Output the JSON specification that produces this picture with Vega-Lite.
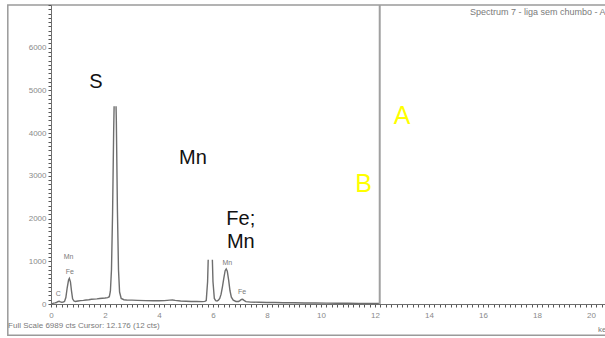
{
  "$schema": "https://vega.github.io/schema/vega-lite/v6.json",
  "autosize": "none",
  "width": 554,
  "height": 299,
  "padding": {"left": 51, "top": 5, "right": 0, "bottom": 34},
  "background": "#ffffff",
  "config": {"view": {"stroke": null}, "font": "Liberation Sans"},
  "datasets": {
    "frame": [{"x1": -1.6, "x2": 22, "y1": -730, "y2": 7000}],
    "spectrum": [
      {"kev": 0, "cts": 0}, {"kev": 0.05, "cts": 10}, {"kev": 0.1, "cts": 20}, {"kev": 0.15, "cts": 25},
      {"kev": 0.2, "cts": 35}, {"kev": 0.25, "cts": 55}, {"kev": 0.3, "cts": 65}, {"kev": 0.35, "cts": 50},
      {"kev": 0.4, "cts": 40}, {"kev": 0.45, "cts": 45}, {"kev": 0.5, "cts": 60}, {"kev": 0.55, "cts": 150},
      {"kev": 0.6, "cts": 380}, {"kev": 0.65, "cts": 560}, {"kev": 0.68, "cts": 600}, {"kev": 0.72, "cts": 520},
      {"kev": 0.76, "cts": 300}, {"kev": 0.8, "cts": 120}, {"kev": 0.85, "cts": 70}, {"kev": 0.9, "cts": 60},
      {"kev": 1.0, "cts": 70}, {"kev": 1.1, "cts": 80}, {"kev": 1.2, "cts": 85}, {"kev": 1.3, "cts": 95},
      {"kev": 1.4, "cts": 100}, {"kev": 1.5, "cts": 110}, {"kev": 1.6, "cts": 115}, {"kev": 1.7, "cts": 120},
      {"kev": 1.8, "cts": 130}, {"kev": 1.9, "cts": 135}, {"kev": 2.0, "cts": 140}, {"kev": 2.1, "cts": 150},
      {"kev": 2.16, "cts": 170}, {"kev": 2.2, "cts": 300}, {"kev": 2.24, "cts": 800}, {"kev": 2.28, "cts": 2100},
      {"kev": 2.32, "cts": 4000}, {"kev": 2.36, "cts": 5400}, {"kev": 2.38, "cts": 5500}, {"kev": 2.42, "cts": 4300},
      {"kev": 2.46, "cts": 2200}, {"kev": 2.5, "cts": 800}, {"kev": 2.54, "cts": 280}, {"kev": 2.6, "cts": 130},
      {"kev": 2.7, "cts": 100}, {"kev": 2.8, "cts": 95}, {"kev": 3.0, "cts": 90}, {"kev": 3.2, "cts": 85},
      {"kev": 3.5, "cts": 80}, {"kev": 3.8, "cts": 75}, {"kev": 4.0, "cts": 75}, {"kev": 4.2, "cts": 80},
      {"kev": 4.4, "cts": 90}, {"kev": 4.5, "cts": 95}, {"kev": 4.6, "cts": 85}, {"kev": 4.8, "cts": 70},
      {"kev": 5.0, "cts": 65}, {"kev": 5.2, "cts": 60}, {"kev": 5.4, "cts": 60}, {"kev": 5.6, "cts": 55},
      {"kev": 5.7, "cts": 60}, {"kev": 5.75, "cts": 80}, {"kev": 5.8, "cts": 520}, {"kev": 5.85, "cts": 1650},
      {"kev": 5.9, "cts": 2400}, {"kev": 5.95, "cts": 1650}, {"kev": 6.0, "cts": 520}, {"kev": 6.05, "cts": 130},
      {"kev": 6.1, "cts": 80}, {"kev": 6.15, "cts": 70}, {"kev": 6.2, "cts": 90}, {"kev": 6.25, "cts": 130},
      {"kev": 6.3, "cts": 230}, {"kev": 6.35, "cts": 400}, {"kev": 6.4, "cts": 600}, {"kev": 6.45, "cts": 780},
      {"kev": 6.49, "cts": 820}, {"kev": 6.53, "cts": 770}, {"kev": 6.58, "cts": 560}, {"kev": 6.63, "cts": 310},
      {"kev": 6.68, "cts": 160}, {"kev": 6.75, "cts": 90}, {"kev": 6.85, "cts": 60}, {"kev": 6.95, "cts": 60},
      {"kev": 7.0, "cts": 80}, {"kev": 7.05, "cts": 105}, {"kev": 7.1, "cts": 110}, {"kev": 7.15, "cts": 85},
      {"kev": 7.22, "cts": 55}, {"kev": 7.4, "cts": 45}, {"kev": 7.7, "cts": 40}, {"kev": 8.0, "cts": 35},
      {"kev": 8.3, "cts": 35}, {"kev": 8.6, "cts": 30}, {"kev": 9.0, "cts": 28}, {"kev": 9.4, "cts": 25},
      {"kev": 9.8, "cts": 22}, {"kev": 10.2, "cts": 20}, {"kev": 10.6, "cts": 18}, {"kev": 11.0, "cts": 16},
      {"kev": 11.4, "cts": 14}, {"kev": 11.8, "cts": 13}, {"kev": 12.176, "cts": 12}
    ],
    "boxes": [
      {"x1": 0.6, "x2": 2.6, "y1": 4630, "y2": 5690},
      {"x1": 3.94, "x2": 6.6, "y1": 2610, "y2": 3970},
      {"x1": 5.68, "x2": 8.83, "y1": 1034, "y2": 2515}
    ],
    "cursor": [{"kev": 12.176}],
    "small": [
      {"kev": 0.65, "cts": 1100, "t": "Mn"},
      {"kev": 0.7, "cts": 750, "t": "Fe"},
      {"kev": 0.27, "cts": 235, "t": "C"},
      {"kev": 6.53, "cts": 960, "t": "Mn"},
      {"kev": 7.08, "cts": 280, "t": "Fe"}
    ],
    "big": [
      {"kev": 1.66, "cts": 5205, "t": "S"},
      {"kev": 5.26, "cts": 3408, "t": "Mn"},
      {"kev": 7.03, "cts": 2000, "t": "Fe;"},
      {"kev": 7.03, "cts": 1457, "t": "Mn"}
    ],
    "yellow": [
      {"kev": 13.0, "cts": 4395, "t": "A"},
      {"kev": 11.58, "cts": 2800, "t": "B"}
    ],
    "notes": [
      {"kev": 15.52, "cts": 6836, "t": "Spectrum 7 - liga sem chumbo - A", "s": 9},
      {"kev": -1.59, "cts": -515, "t": "Full Scale 6989 cts Cursor: 12.176  (12 cts)", "s": 8},
      {"kev": 20.26, "cts": -609, "t": "keV", "s": 8}
    ]
  },
  "layer": [
    {
      "data": {"name": "frame"},
      "mark": {"type": "rect", "fill": "transparent", "stroke": "#9a9a9a", "strokeWidth": 1.5, "clip": false},
      "encoding": {
        "x": {"field": "x1", "type": "quantitative", "scale": {"domain": [0, 20.52], "nice": false, "zero": false},
          "axis": {"title": null, "tickCount": 100, "labelExpr": "abs(datum.value % 2) < 0.001 ? format(datum.value, 'd') : ''",
            "labelOverlap": false, "labelFlush": false, "grid": false, "domainColor": "#6e6e6e", "tickColor": "#555555",
            "tickSize": 3, "tickWidth": 1, "labelColor": "#8a8a8a", "labelFontSize": 8, "labelPadding": 4, "zindex": 1}},
        "x2": {"field": "x2"},
        "y": {"field": "y1", "type": "quantitative", "scale": {"domain": [0, 7000], "nice": false, "zero": false},
          "axis": {"title": null, "tickCount": 70, "labelExpr": "datum.value % 1000 === 0 && datum.value < 7000 ? format(datum.value, 'd') : ''",
            "labelOverlap": false, "labelFlush": false, "grid": false, "domainColor": "#6e6e6e", "tickColor": "#555555",
            "tickSize": 3, "tickWidth": 1, "labelColor": "#8a8a8a", "labelFontSize": 8, "labelPadding": 2, "zindex": 1}},
        "y2": {"field": "y2"}
      }
    },
    {
      "data": {"name": "spectrum"},
      "mark": {"type": "line", "stroke": "#6e6e6e", "strokeWidth": 1.4},
      "encoding": {
        "x": {"field": "kev", "type": "quantitative"},
        "y": {"field": "cts", "type": "quantitative"}
      }
    },
    {
      "data": {"name": "boxes"},
      "mark": {"type": "rect", "fill": "#ffffff"},
      "encoding": {
        "x": {"field": "x1", "type": "quantitative"},
        "x2": {"field": "x2"},
        "y": {"field": "y1", "type": "quantitative"},
        "y2": {"field": "y2"}
      }
    },
    {
      "data": {"name": "cursor"},
      "mark": {"type": "rule", "stroke": "#a0a0a0", "strokeWidth": 2},
      "encoding": {"x": {"field": "kev", "type": "quantitative"}}
    },
    {
      "data": {"name": "small"},
      "mark": {"type": "text", "fontSize": 7, "fill": "#7a7a7a", "align": "center", "baseline": "middle"},
      "encoding": {
        "x": {"field": "kev", "type": "quantitative"},
        "y": {"field": "cts", "type": "quantitative"},
        "text": {"field": "t"}
      }
    },
    {
      "data": {"name": "big"},
      "mark": {"type": "text", "fontSize": 20, "fill": "#111111", "align": "center", "baseline": "middle"},
      "encoding": {
        "x": {"field": "kev", "type": "quantitative"},
        "y": {"field": "cts", "type": "quantitative"},
        "text": {"field": "t"}
      }
    },
    {
      "data": {"name": "yellow"},
      "mark": {"type": "text", "fontSize": 25, "fill": "#ffff00", "align": "center", "baseline": "middle"},
      "encoding": {
        "x": {"field": "kev", "type": "quantitative"},
        "y": {"field": "cts", "type": "quantitative"},
        "text": {"field": "t"}
      }
    },
    {
      "data": {"name": "notes"},
      "mark": {"type": "text", "fill": "#7a7a7a", "align": "left", "baseline": "middle", "clip": false},
      "encoding": {
        "x": {"field": "kev", "type": "quantitative"},
        "y": {"field": "cts", "type": "quantitative"},
        "text": {"field": "t"},
        "size": {"field": "s", "type": "quantitative", "scale": null}
      }
    }
  ]
}
